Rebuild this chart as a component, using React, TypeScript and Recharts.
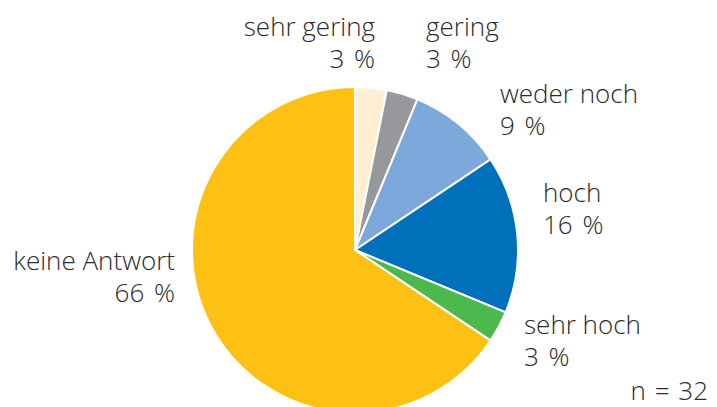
import { PieChart, Pie, Cell } from "recharts";

const categories = ["sehr gering", "gering", "weder noch", "hoch", "sehr hoch", "keine Antwort"];
const counts = [1, 1, 3, 5, 1, 21];
const colors = ["#FEEFD3", "#97989C", "#7DA8DB", "#0070BA", "#4DB84D", "#FDC113"];
const sampleSize = 32;

const data = categories.map((name, i) => ({ name, value: counts[i] }));

// label placement relative to pie centre: [dx, dy of first baseline, anchor]
const labelLayout: Record<string, [number, number, "start" | "end"]> = {
  "sehr gering": [20, -214, "end"],
  gering: [71, -214, "start"],
  "weder noch": [145, -147, "start"],
  hoch: [188, -48, "start"],
  "sehr hoch": [169, 84, "start"],
  "keine Antwort": [-180, 20, "end"],
};

const textColor = "#2b2b2b";
const font = "'Open Sans', sans-serif";
const fontSize = 26;

function renderLabel(props: any) {
  const { cx, cy, name, percent } = props;
  const [dx, dy, anchor] = labelLayout[name];
  const x = cx + dx;
  const y = cy + dy;
  return (
    <text x={x} y={y} textAnchor={anchor} fill={textColor} fontSize={fontSize} fontWeight={300} fontFamily={font}>
      <tspan x={x} dy={0}>{name}</tspan>
      <tspan x={x} dy={32} style={{ wordSpacing: 3 }}>{`${Math.round(percent * 100)} %`}</tspan>
    </text>
  );
}

export default function App() {
  return (
    <div style={{ position: "absolute", left: 0, top: 0, width: 717, height: 407, background: "#fff" }}>
      <PieChart width={717} height={407} margin={{ top: 0, right: 0, bottom: 0, left: 0 }}>
        <Pie
          data={data}
          dataKey="value"
          nameKey="name"
          cx={355}
          cy={250}
          outerRadius={163}
          startAngle={90}
          endAngle={-270}
          stroke="#ffffff"
          strokeWidth={2}
          label={renderLabel}
          labelLine={false}
          isAnimationActive={false}
        >
          {data.map((d, i) => (
            <Cell key={d.name} fill={colors[i]} />
          ))}
        </Pie>
        <text x={708} y={400} textAnchor="end" fill={textColor} fontSize={fontSize} fontWeight={300} fontFamily={font} style={{ wordSpacing: 2 }}>
          {`n = ${sampleSize}`}
        </text>
      </PieChart>
    </div>
  );
}
